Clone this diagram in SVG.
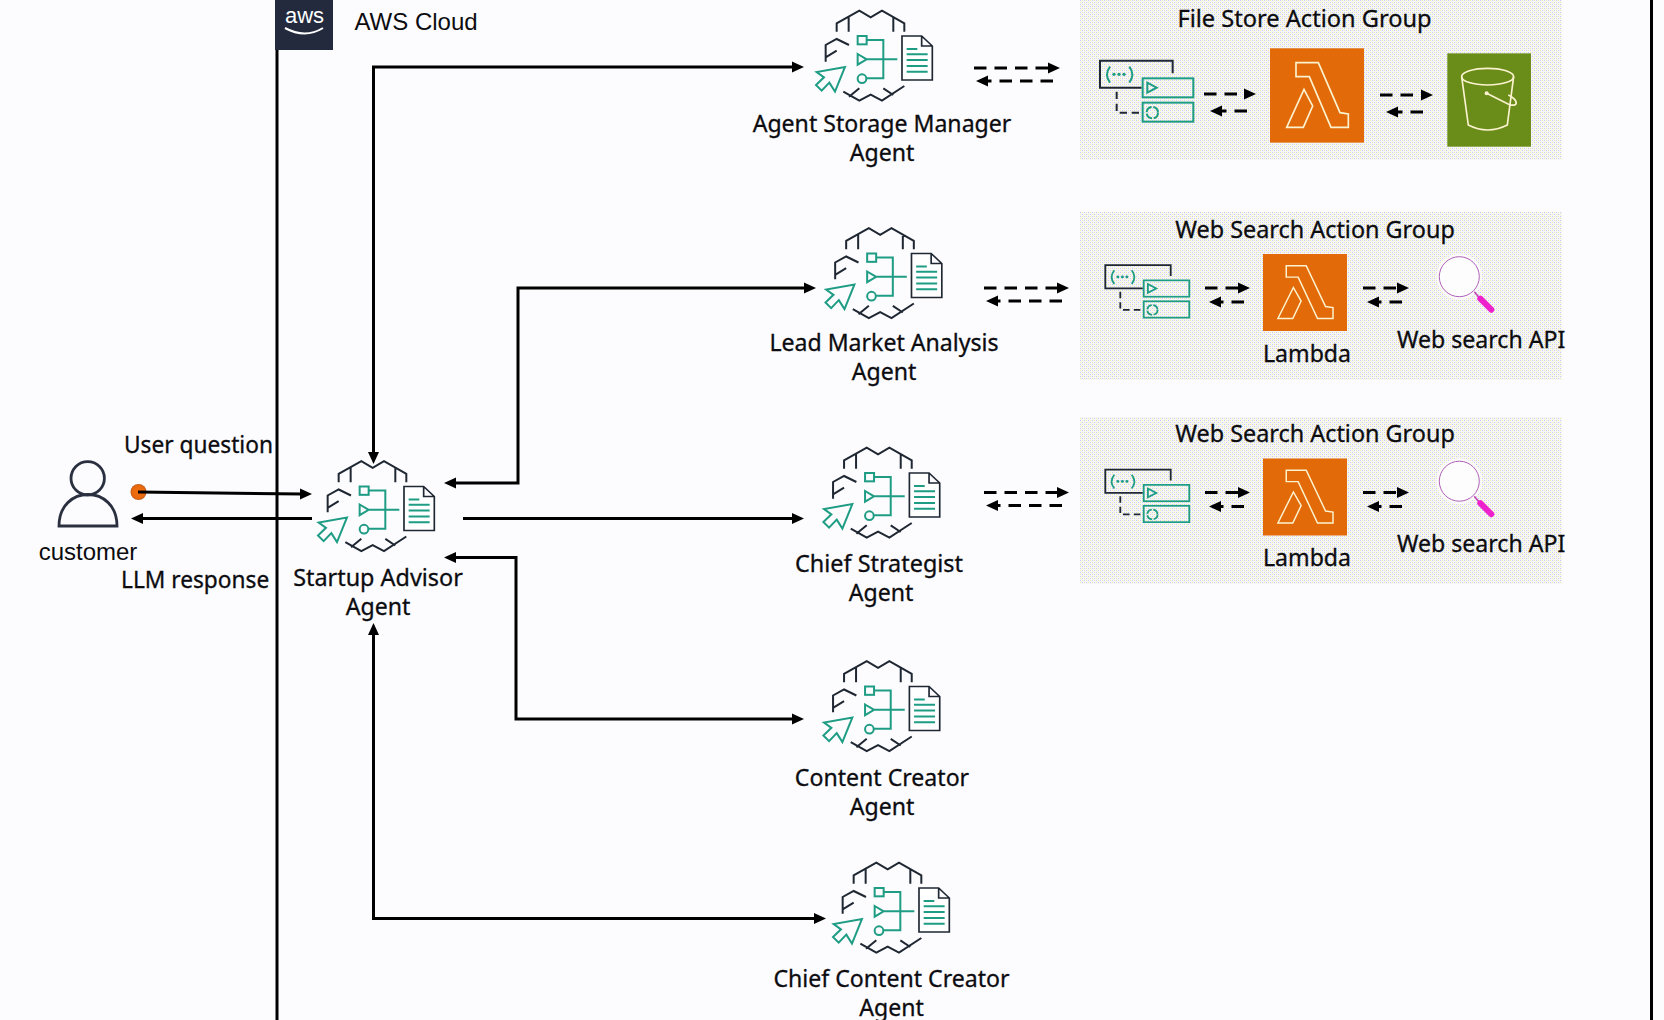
<svg xmlns="http://www.w3.org/2000/svg" width="1664" height="1020" viewBox="0 0 1664 1020">
<style>
text{font-family:"Noto Sans","Open Sans",sans-serif;font-size:23.1px;fill:#0c0c10;stroke:#0c0c10;stroke-width:.3}
.m{text-anchor:middle}
.ti{font-size:23.4px}
.sm{font-size:22.7px}
.ar{font-family:"Liberation Sans",Arial,sans-serif;font-size:24px;stroke:none}
.k{fill:none;stroke:#1f2733;stroke-width:6}
.t{fill:none;stroke:#1e9c84;stroke-width:6}
.c{fill:none;stroke:#000;stroke-width:3}
.ca{marker-end:url(#a)}
.cb{marker-start:url(#a);marker-end:url(#a)}
.d{stroke-dasharray:12.5 8}
.g{fill:url(#dots)}
.gl{fill:none;stroke:#fbf3cf;stroke-width:5}
</style>
<defs>
<pattern id="dots" width="4" height="4" patternUnits="userSpaceOnUse">
<rect width="4" height="4" fill="#f6f6f8"/>
<rect x="0" y="0" width="1" height="1" fill="#c8c8f4"/>
<rect x="2" y="2" width="1" height="1" fill="#c8c8f4"/>
<rect x="2" y="0" width="1" height="1" fill="#f0f0a8"/>
<rect x="0" y="2" width="1" height="1" fill="#f0f0a8"/>
</pattern>
<marker id="a" markerUnits="userSpaceOnUse" markerWidth="12" markerHeight="12" viewBox="0 0 12 12" refX="2" refY="6" orient="auto-start-reverse"><path d="M0 0.5L12 6L0 11.5Z" fill="#000"/></marker>
<radialGradient id="dot"><stop offset="0" stop-color="#f07010"/><stop offset=".8" stop-color="#e8680b"/><stop offset="1" stop-color="#b85a20"/></radialGradient>
<symbol id="agent" overflow="visible">
<path class="k" d="M170 95V70L238 32L272 52L306 32L373 70V95M206 52V95M340 52V95M137 185V135L170 117L207 135M137 172L170 152M190 275L238 302L272 284L306 302L373 258M207 290L238 265M340 285L310 265"/>
<rect class="t" x="233" y="108" width="27" height="25"/>
<path class="t" d="M233 162L260 178L233 194ZM260 120H310V235H260M260 178H352"/>
<circle class="t" cx="246" cy="236" r="13"/>
<path class="t" d="M195 201L165 275L148 248L125 272L108 255L132 232L110 216Z"/>
<path d="M366 108H425L457 138V240H366ZM425 108V138H457" fill="#fff" stroke="#1f2733" stroke-width="5"/>
<path class="t" d="M380 147H412M380 163H443M380 180H443M380 198H443M380 215H443"/>
</symbol>
<symbol id="action" overflow="visible">
<path class="k" d="M248 100V62H30V143H155"/>
<path class="k" stroke-dasharray="22 14" d="M80 155V218H158"/>
<path class="t" d="M60 80Q42 104 60 128M118 80Q136 104 118 128"/>
<g fill="#1e9c84"><circle cx="72" cy="103" r="5"/><circle cx="87" cy="103" r="5"/><circle cx="102" cy="103" r="5"/></g>
<rect class="t" x="158" y="115" width="152" height="57"/>
<rect class="t" x="158" y="188" width="152" height="57"/>
<path class="t" d="M172 128L200 143L172 158Z"/>
<circle class="t" cx="187" cy="218" r="17" stroke-dasharray="22 5"/>
</symbol>
<symbol id="lambda" overflow="visible">
<rect width="282" height="283" fill="#e26a08"/>
<path class="gl" d="M78 43H145L210 193L235 197V237H183L118 85H78ZM102 123L128 173L100 237H50Z"/>
</symbol>
<symbol id="lens" overflow="visible">
<circle cx="0" cy="0" r="23" fill="#fff" opacity=".7"/>
<circle cx="0" cy="0" r="20" fill="#fdfdfe" stroke="#b060b8" stroke-width="1"/>
<path d="M15 15L20 21" stroke="#c040b0" stroke-width="1.500"/>
<path d="M21 22L32 33" stroke="#ee22cc" stroke-width="6" stroke-linecap="round"/>
</symbol>
</defs>
<rect id="background" width="1664" height="1020" fill="#fcfcfe"/>
<g id="boundary">
<path d="M277 0V1020M1651.500 0V1020" stroke="#000" stroke-width="3" fill="none"/>
<rect x="275" width="58" height="50" fill="#232a3e"/>
<text class="ar" x="304.500" y="23" text-anchor="middle" style="font-size:22px;fill:#fff">aws</text>
<path d="M285 28Q305 39 323 28" fill="none" stroke="#fff" stroke-width="2"/>
<text class="ar" x="354.500" y="30">AWS Cloud</text>
</g>
<g id="group-file-store">
<rect class="g" x="1080" y="0" width="482" height="160"/>
<text class="m" x="1304.500" y="27" style="font-size:23.6px">File Store Action Group</text>
<use href="#action" transform="translate(1090 40) scale(.3333)"/>
<use href="#lambda" transform="translate(1270 48.300) scale(.3333)"/>
<g id="s3" transform="translate(1260 40) scale(.3333)">
<rect x="562" y="40" width="251" height="280" fill="#6a8c18"/>
<path class="gl" d="M605 110L625 255Q683 285 742 255L761 110M680 160L750 195Q772 198 768 185Q765 175 745 165"/>
<ellipse class="gl" cx="683" cy="110" rx="78" ry="25"/>
<circle cx="680" cy="160" r="6" fill="#fbf3cf"/>
</g>
</g>
<g id="group-web-search-1">
<rect class="g" x="1080" y="212" width="482" height="168"/>
<text class="m ti" x="1315" y="238">Web Search Action Group</text>
<use href="#action" transform="translate(1096.300 247.400) scale(.3 .2867)"/>
<use href="#lambda" transform="translate(1263 254) scale(.2979 .2721)"/>
<text class="m" x="1307" y="362">Lambda</text>
<use href="#lens" transform="translate(1459.300 276.700)"/>
<text x="1397" y="347.500">Web search API</text>
</g>
<g id="group-web-search-2">
<rect class="g" x="1080" y="417" width="482" height="167"/>
<text class="m ti" x="1315" y="442">Web Search Action Group</text>
<use href="#action" transform="translate(1096.300 451.900) scale(.3 .2867)"/>
<use href="#lambda" transform="translate(1263 458.500) scale(.2979 .2721)"/>
<text class="m" x="1307" y="566">Lambda</text>
<use href="#lens" transform="translate(1459.300 481.200)"/>
<text x="1397" y="551.500">Web search API</text>
</g>
<g id="customer">
<circle cx="87.700" cy="478.300" r="16.700" fill="none" stroke="#2a3040" stroke-width="2.800"/>
<path d="M59 526C59 484 117 484 117 526Z" fill="none" stroke="#2a3040" stroke-width="2.800"/>
<text class="ar m" x="88" y="560">customer</text>
</g>
<circle id="start-dot" cx="138.500" cy="492" r="8" fill="url(#dot)"/>
<text id="label-user-question" class="sm" x="124" y="453">User question</text>
<text id="label-llm-response" class="sm" x="121" y="588">LLM response</text>
<g id="agent-startup-advisor">
<use href="#agent" transform="translate(282 450.500) scale(.3333)"/>
<text class="m" x="378" y="586" style="font-size:23.4px">Startup Advisor</text><text class="m" x="378" y="615">Agent</text>
</g>
<g id="agent-storage-manager">
<use href="#agent" transform="translate(780 0) scale(.3333)"/>
<text class="m" x="882" y="132">Agent Storage Manager</text><text class="m" x="882" y="160.500">Agent</text>
</g>
<g id="agent-lead-market">
<use href="#agent" transform="translate(789.500 217.500) scale(.3333)"/>
<text class="m" x="884" y="351">Lead Market Analysis</text><text class="m" x="884" y="380">Agent</text>
</g>
<g id="agent-chief-strategist">
<use href="#agent" transform="translate(787.400 437) scale(.3333)"/>
<text class="m" x="879" y="572" style="font-size:23.4px">Chief Strategist</text><text class="m" x="881" y="601">Agent</text>
</g>
<g id="agent-content-creator">
<use href="#agent" transform="translate(787.400 650.500) scale(.3333)"/>
<text class="m" x="882" y="786">Content Creator</text><text class="m" x="882" y="815">Agent</text>
</g>
<g id="agent-chief-content-creator">
<use href="#agent" transform="translate(797 852) scale(.3333)"/>
<text class="m" x="891.500" y="987">Chief Content Creator</text><text class="m" x="891.500" y="1016">Agent</text>
</g>
<g id="connectors">
<path class="c ca" d="M138 492L302 494"/>
<path class="c ca" d="M312 518.500H141"/>
<path class="c cb" d="M794 67H373.500V454"/>
<path class="c cb" d="M806 288H518V483H454"/>
<path class="c ca" d="M463 518.500H794"/>
<path class="c cb" d="M794 719H516V557.500H454"/>
<path class="c cb" d="M816 918.500H373.500V633"/>
<g class="dashed">
<path class="c d ca" d="M974 68H1050"/>
<path class="c d ca" d="M1053 81H986"/>
<path class="c d ca" d="M1204 94H1246"/>
<path class="c d ca" d="M1247 111H1220"/>
<path class="c d ca" d="M1380 95H1423"/>
<path class="c d ca" d="M1423 112H1396"/>
<path class="c d ca" d="M984 288H1059"/>
<path class="c d ca" d="M1062 301H996"/>
<path class="c d ca" d="M1205 288H1240"/>
<path class="c d ca" d="M1244 302H1219"/>
<path class="c d ca" d="M1363 288H1399"/>
<path class="c d ca" d="M1402 302H1377"/>
<path class="c d ca" d="M984 492.500H1059"/>
<path class="c d ca" d="M1062 505.500H996"/>
<path class="c d ca" d="M1205 492.500H1240"/>
<path class="c d ca" d="M1244 506.500H1219"/>
<path class="c d ca" d="M1363 492.500H1399"/>
<path class="c d ca" d="M1402 506.500H1377"/>
</g>
</g>
</svg>
